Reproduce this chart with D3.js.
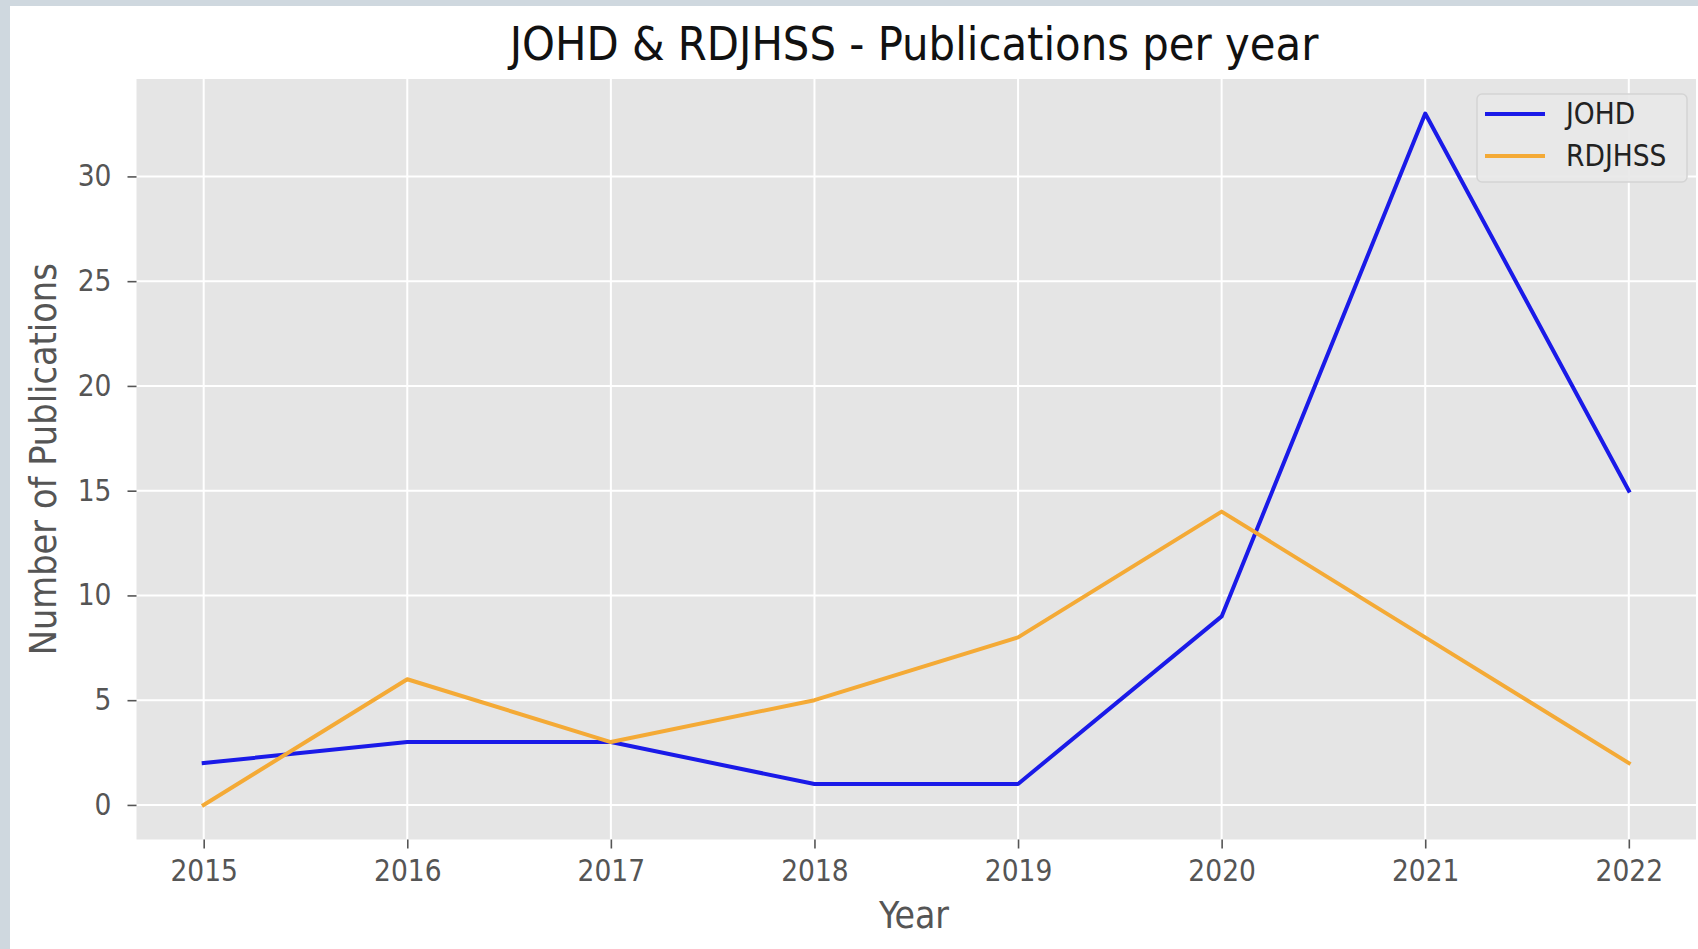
<!DOCTYPE html>
<html>
<head>
<meta charset="utf-8">
<script src="https://cdn.jsdelivr.net/npm/d3@7"></script>
<style>
  html, body { margin: 0; padding: 0; background: #ffffff; }
  svg { display: block; }
  text { font-family: "DejaVu Sans Condensed", "DejaVu Sans", sans-serif; font-stretch: condensed; }
</style>
</head>
<body>
<svg id="chart" width="1698" height="949"></svg>
<script>
const years = [2015, 2016, 2017, 2018, 2019, 2020, 2021, 2022];
const johd = [2, 3, 3, 1, 1, 9, 33, 15];
const rdjhss = [0, 6, 3, 5, 8, 14, 8, 2];
const yTicks = [0, 5, 10, 15, 20, 25, 30];
const seriesNames = ["JOHD", "RDJHSS"];
const seriesColors = ["#1a1ae8", "#f4aa36"];

const W = 1698, H = 949;
const svg = d3.select("#chart");

// page frame
svg.append("rect").attr("x", 0).attr("y", 0).attr("width", W).attr("height", H).attr("fill", "#cfd8df");
svg.append("rect").attr("x", 10).attr("y", 6).attr("width", W - 10).attr("height", H - 6).attr("fill", "#ffffff");

const plot = { left: 136.5, top: 79, right: 1696, bottom: 839.5 };

const x = d3.scaleLinear()
  .domain([2015 - 0.33, 2022 + 0.33])
  .range([plot.left, plot.right]);
const y = d3.scaleLinear()
  .domain([-1.65, 34.65])
  .range([plot.bottom, plot.top]);

// axes background
svg.append("rect")
  .attr("x", plot.left).attr("y", plot.top)
  .attr("width", plot.right - plot.left).attr("height", plot.bottom - plot.top)
  .attr("fill", "#e5e5e5");

// grid
const g = svg.append("g");
g.selectAll(".vg").data(years).join("line")
  .attr("x1", d => x(d)).attr("x2", d => x(d))
  .attr("y1", plot.top).attr("y2", plot.bottom)
  .attr("stroke", "#ffffff").attr("stroke-width", 2);
g.selectAll(".hg").data(yTicks).join("line")
  .attr("x1", plot.left).attr("x2", plot.right)
  .attr("y1", d => y(d)).attr("y2", d => y(d))
  .attr("stroke", "#ffffff").attr("stroke-width", 2);

// axes
const xAxis = d3.axisBottom(x).tickValues(years).tickFormat(d3.format("d")).tickSize(9).tickPadding(12);
const yAxis = d3.axisLeft(y).tickValues(yTicks).tickSize(9).tickPadding(16);

const gx = svg.append("g").attr("transform", `translate(0,${plot.bottom})`).call(xAxis);
const gy = svg.append("g").attr("transform", `translate(${plot.left},0)`).call(yAxis);
[gx, gy].forEach(a => {
  a.select(".domain").remove();
  a.selectAll(".tick line").attr("stroke", "#555555").attr("stroke-width", 1.6);
  a.selectAll(".tick text").attr("fill", "#555555").style("font-size", "29.5px");
});

// lines
const lineGen = d3.line().x((d, i) => x(years[i])).y(d => y(d));
[johd, rdjhss].forEach((s, k) => {
  svg.append("path").datum(s)
    .attr("d", lineGen)
    .attr("fill", "none")
    .attr("stroke", seriesColors[k])
    .attr("stroke-width", 4)
    .attr("stroke-linejoin", "round")
    .attr("stroke-linecap", "square");
});

// title
svg.append("text")
  .attr("x", 914).attr("y", 60)
  .attr("text-anchor", "middle")
  .attr("fill", "#111111")
  .style("font-size", "46.5px")
  .text("JOHD & RDJHSS - Publications per year");

// axis labels
svg.append("text")
  .attr("x", 914).attr("y", 928)
  .attr("text-anchor", "middle")
  .attr("fill", "#555555")
  .style("font-size", "37px")
  .text("Year");
svg.append("text")
  .attr("transform", `translate(56,${(plot.top + plot.bottom) / 2}) rotate(-90)`)
  .attr("text-anchor", "middle")
  .attr("fill", "#555555")
  .style("font-size", "37.5px")
  .text("Number of Publications");

// legend
const lg = svg.append("g");
lg.append("rect")
  .attr("x", 1477).attr("y", 94).attr("width", 210).attr("height", 88)
  .attr("rx", 5).attr("ry", 5)
  .attr("fill", "#e8e8e8").attr("fill-opacity", 0.9)
  .attr("stroke", "#d4d4d4").attr("stroke-width", 1.5);
seriesNames.forEach((name, i) => {
  const yy = 114 + i * 42;
  lg.append("line")
    .attr("x1", 1485).attr("x2", 1545)
    .attr("y1", yy).attr("y2", yy)
    .attr("stroke", seriesColors[i]).attr("stroke-width", 4);
  lg.append("text")
    .attr("x", 1566).attr("y", yy + 10)
    .attr("fill", "#222222")
    .style("font-size", "29.5px")
    .text(name);
});
</script>
</body>
</html>
